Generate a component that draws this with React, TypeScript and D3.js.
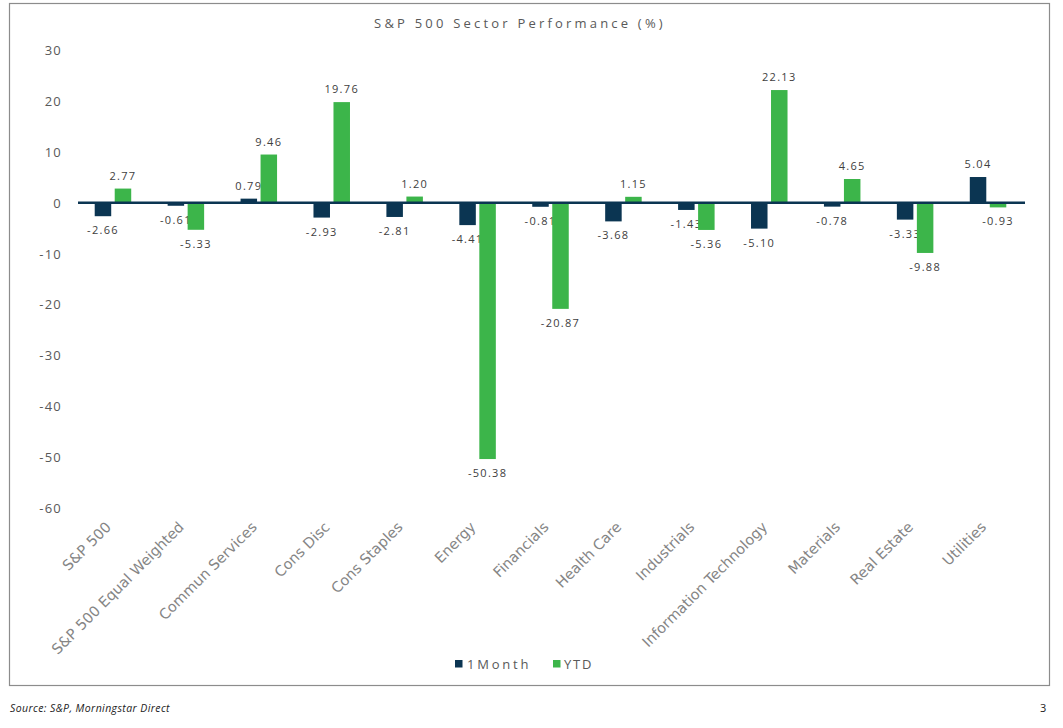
import React from "react";
import * as d3 from "d3";

const categories = [
  "S&P 500",
  "S&P 500 Equal Weighted",
  "Commun Services",
  "Cons Disc",
  "Cons Staples",
  "Energy",
  "Financials",
  "Health Care",
  "Industrials",
  "Information Technology",
  "Materials",
  "Real Estate",
  "Utilities",
];
const oneMonth = [-2.66, -0.61, 0.79, -2.93, -2.81, -4.41, -0.81, -3.68, -1.43, -5.1, -0.78, -3.33, 5.04];
const ytd = [2.77, -5.33, 9.46, 19.76, 1.2, -50.38, -20.87, 1.15, -5.36, 22.13, 4.65, -9.88, -0.93];
const yTicks = [30, 20, 10, 0, -10, -20, -30, -40, -50, -60];
const seriesNames = ["1Month", "YTD"];
const colors = ["#0B3552", "#3CB54A"];

export default function App() {
  const W = 1063;
  const H = 728;
  const x = d3.scaleBand<string>().domain(categories).range([76.5, 1024.5]);
  const y = d3.scaleLinear().domain([-60, 30]).range([508, 50]);
  const barW = 16.5;
  const gap = 3.5;
  const series = [oneMonth, ytd];
  const labelFont = "'Open Sans', 'DejaVu Sans', sans-serif";
  const textColor = "#404040";

  return (
    <svg
      width={W}
      height={H}
      style={{ position: "absolute", left: 0, top: 0, background: "#fff" }}
      fontFamily={labelFont}
    >
      <rect x={9.5} y={3.5} width={1040} height={682} fill="#fff" stroke="#8c8c8c" strokeWidth={1.2} />
      <text
        x={520}
        y={28}
        textAnchor="middle"
        fontSize={13}
        letterSpacing={3.2}
        fill="#595959"
      >
        S&amp;P 500 Sector Performance (%)
      </text>

      {yTicks.map((t) => (
        <text
          key={t}
          x={62}
          y={y(t) + 5}
          textAnchor="end"
          fontSize={13}
          letterSpacing={1.2}
          fill="#595959"
        >
          {t}
        </text>
      ))}

      {categories.map((c, i) => {
        const cx = (x(c) as number) + x.bandwidth() / 2;
        return (
          <g key={c}>
            {series.map((s, k) => {
              const v = s[i];
              const bx = k === 0 ? cx - gap / 2 - barW : cx + gap / 2;
              const y0 = y(0);
              const y1 = y(v);
              const top = Math.min(y0, y1);
              const h = Math.abs(y1 - y0);
              const lx = bx + barW / 2;
              const ly = v >= 0 ? y1 - 9 : y1 + 18;
              return (
                <g key={k}>
                  <rect x={bx} y={top} width={barW} height={h} fill={colors[k]} />
                  <text
                    x={lx}
                    y={ly}
                    textAnchor="middle"
                    fontSize={11}
                    letterSpacing={1.3}
                    fill={textColor}
                  >
                    {v.toFixed(2)}
                  </text>
                </g>
              );
            })}
          </g>
        );
      })}

      <line x1={78} x2={1025} y1={y(0)} y2={y(0)} stroke="#0B3552" strokeWidth={2.5} />

      {categories.map((c) => {
        const cx = (x(c) as number) + x.bandwidth() / 2;
        return (
          <text
            key={"l" + c}
            transform={`translate(${cx - 1},${528}) rotate(-45)`}
            textAnchor="end"
            fontSize={14.5}
            fill="#858585"
            fontFamily="'DejaVu Sans', sans-serif"
          >
            {c}
          </text>
        );
      })}

      <g>
        <rect x={455} y={660} width={7.5} height={7.5} fill={colors[0]} />
        <text x={467} y={668.5} fontSize={13} letterSpacing={2.8} fill="#595959">
          {seriesNames[0]}
        </text>
        <rect x={553} y={660} width={7.5} height={7.5} fill={colors[1]} />
        <text x={564} y={668.5} fontSize={13} letterSpacing={1.8} fill="#595959">
          {seriesNames[1]}
        </text>
      </g>

      <text x={10} y={712} fontSize={10.5} fontStyle="italic" fill="#222" letterSpacing={0.4}>
        Source: S&amp;P, Morningstar Direct
      </text>
      <text x={1040} y={712} fontSize={11} fill="#222">
        3
      </text>
    </svg>
  );
}
